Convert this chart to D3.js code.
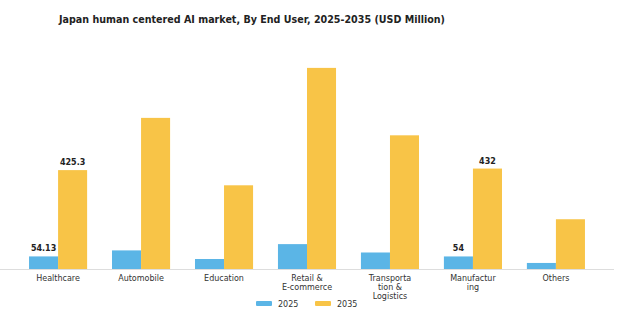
<!DOCTYPE html>
<html>
<head>
<meta charset="utf-8">
<script src="https://cdn.jsdelivr.net/npm/d3@7"></script>
<style>
  body { margin: 0; background: #fff; }
  text { font-family: "DejaVu Sans", sans-serif; }
</style>
</head>
<body>
<svg id="chart" width="636" height="330"></svg>
<script>
// data
var categories = ["Healthcare", "Automobile", "Education", "Retail & E-commerce", "Transportation & Logistics", "Manufacturing", "Others"];
var catLines = [["Healthcare"], ["Automobile"], ["Education"], ["Retail &", "E-commerce"], ["Transporta", "tion &", "Logistics"], ["Manufactur", "ing"], ["Others"]];
var years = ["2025", "2035"];
var values2025 = [54.13, 80, 43, 107, 71, 54, 26];
var values2035 = [425.3, 650, 360, 865, 575, 432, 214];
var labelled = [0, 5]; // only these groups show their numbers
var colors = ["#5BB5E6", "#F8C447"];

var svg = d3.select("#chart");
var baseY = 269;

var x = d3.scaleBand().domain(categories).range([0, 614]).paddingInner(0.3).paddingOuter(0.35);
var xs = d3.scaleBand().domain(years).range([0, x.bandwidth()]);
var y = d3.scaleLinear().domain([0, 1000]).range([baseY, baseY - 232.5]);

// title
svg.append("text").attr("x", 252).attr("y", 23).attr("text-anchor", "middle")
  .attr("font-size", 11).attr("font-weight", "bold").attr("fill", "#222")
  .attr("textLength", 386).attr("lengthAdjust", "spacingAndGlyphs")
  .text("Japan human centered AI market, By End User, 2025-2035 (USD Million)");

// bars
var series = [values2025, values2035];
series.forEach(function(vals, s){
  svg.append("g").selectAll("rect").data(vals).enter().append("rect")
    .attr("x", function(d, i){ return x(categories[i]) + xs(years[s]); })
    .attr("y", function(d){ return y(d); })
    .attr("width", xs.bandwidth())
    .attr("height", function(d){ return baseY - y(d); })
    .attr("fill", colors[s]);
});

// baseline
svg.append("line").attr("x1", 0).attr("x2", 614).attr("y1", baseY + 0.5).attr("y2", baseY + 0.5)
  .attr("stroke", "#ddd").attr("stroke-width", 1);

// value labels
labelled.forEach(function(i){
  series.forEach(function(vals, s){
    svg.append("text")
      .attr("x", x(categories[i]) + xs(years[s]) + xs.bandwidth() / 2)
      .attr("y", y(vals[i]) - 5)
      .attr("text-anchor", "middle").attr("font-size", 8).attr("font-weight", "bold").attr("fill", "#222")
      .text(vals[i]);
  });
});

// x labels
var xl = svg.append("g").selectAll("text").data(categories).enter().append("text")
  .attr("x", function(d){ return x(d) + x.bandwidth() / 2; })
  .attr("y", baseY + 12)
  .attr("text-anchor", "middle").attr("font-size", 8).attr("fill", "#333");
xl.each(function(d, i){
  var t = d3.select(this);
  catLines[i].forEach(function(line, k){
    t.append("tspan").attr("x", x(d) + x.bandwidth() / 2).attr("dy", k === 0 ? 0 : 9).text(line);
  });
});

// legend
var legX = [256, 315];
years.forEach(function(yr, s){
  svg.append("rect").attr("x", legX[s]).attr("y", 301).attr("width", 16).attr("height", 5)
    .attr("rx", 1).attr("fill", colors[s]);
  svg.append("text").attr("x", legX[s] + 22).attr("y", 306.5).attr("font-size", 8).attr("fill", "#333").text(yr);
});
</script>
</body>
</html>
